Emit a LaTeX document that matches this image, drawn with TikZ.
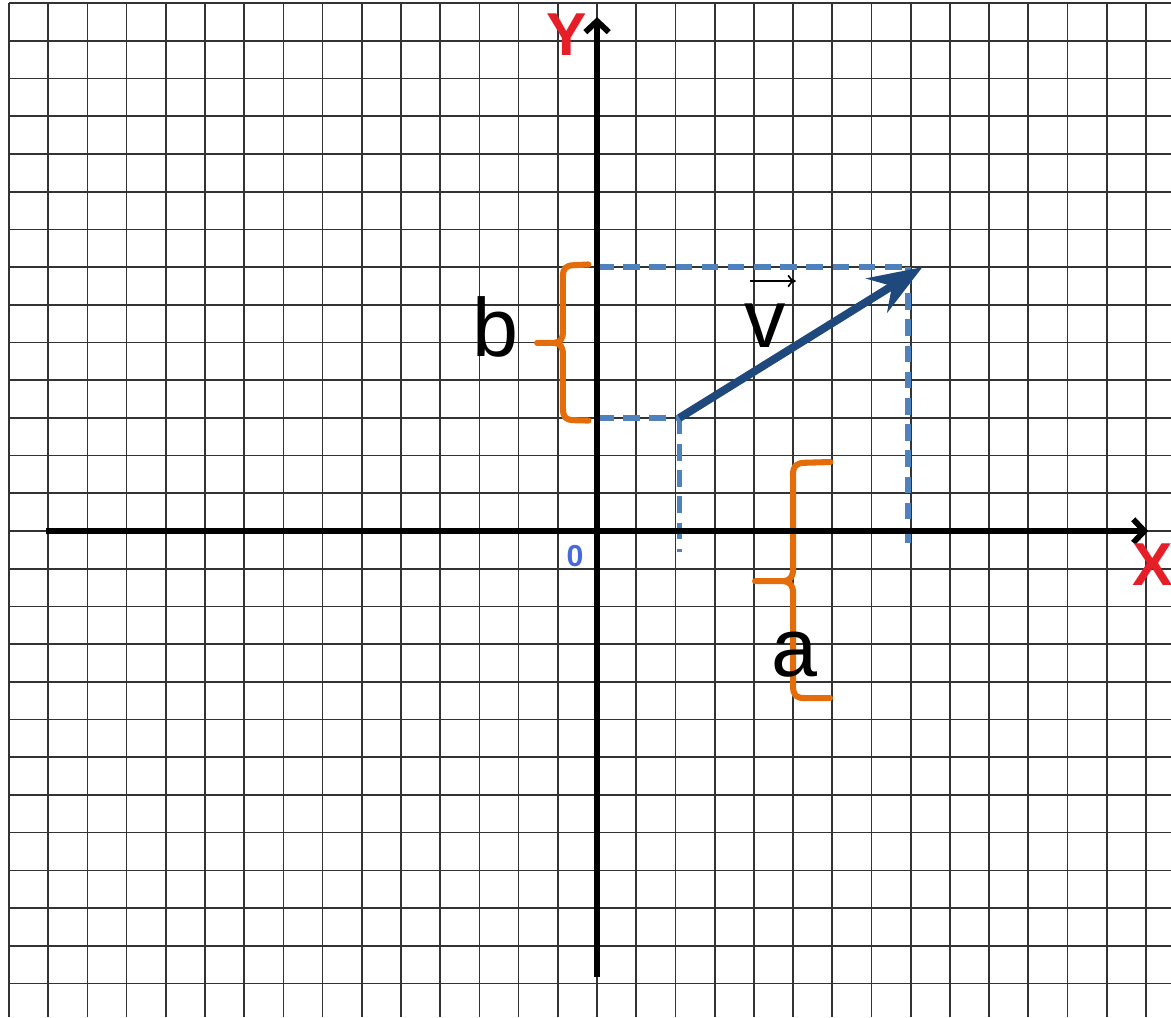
\documentclass[tikz,border=0pt]{standalone}
\usepackage{fontspec}
\setmainfont{Liberation Sans}
\usetikzlibrary{arrows.meta}
\definecolor{axred}{RGB}{230,30,40}
\definecolor{zeroblue}{RGB}{70,105,220}
\definecolor{dashblue}{RGB}{79,129,189}
\definecolor{vecblue}{RGB}{31,73,125}
\definecolor{braceorange}{RGB}{228,108,10}
\tikzset{
  gridline/.style={black!80,line width=1.2pt},
  axisline/.style={line width=4.2pt,-{Straight Barb[length=8pt,width=17pt]}},
  guide/.style={dashblue,line width=4pt,dash pattern=on 12pt off 7pt},
  vecline/.style={vecblue,line width=5.8pt,-{Stealth[length=39pt,width=29pt,inset=13pt]}},
  orbrace/.style={braceorange,line width=4.4pt,line cap=round,line join=round},
  letter/.style={font=\fontsize{60}{70}\selectfont},
  axlabel/.style={text=axred,font=\bfseries\fontsize{44}{50}\selectfont},
}
\begin{document}
\begin{tikzpicture}[x=10mm,y=9.617mm]
\useasboundingbox (-15.23,-12.89) rectangle (14.64,14.085);
% grid paper
\foreach \c in {-15,...,14}{\draw[gridline] (\c,-12.89) -- (\c,14);}
\foreach \r in {-12,...,14}{\draw[gridline] (-15,\r) -- (14.64,\r);}
% points
\coordinate (O) at (0,0);
\coordinate (xL) at (-14.05,0);
\coordinate (xR) at (14.06,0);
\coordinate (yB) at (0,-11.82);
\coordinate (yT) at (0,13.63);
\coordinate (P) at (2.1,3);
\coordinate (Q) at (8.3,7);
\coordinate (Py) at (0,3);
\coordinate (Px) at (2.1,-0.55);
\coordinate (Qy) at (0,7);
\coordinate (Qc) at (7.93,7);
\coordinate (Qx) at (7.93,-0.32);
% projections
\draw[guide] (Qy) -- (Qc);
\draw[guide] (Qc) -- (Qx);
\draw[guide] (Py) -- (P);
\draw[guide] (P) -- (Px);
% braces
\draw[orbrace] (-0.22,7.07) -- (-0.6,7.05) .. controls (-0.8,7.04) and (-0.87,6.97) .. (-0.87,6.75)
  -- (-0.87,5.3) .. controls (-0.87,5.1) and (-0.93,5.0) .. (-1.1,4.99) -- (-1.53,4.99)
  -- (-1.1,4.99) .. controls (-0.93,4.98) and (-0.87,4.88) .. (-0.87,4.68)
  -- (-0.87,3.25) .. controls (-0.87,3.02) and (-0.8,2.95) .. (-0.6,2.94) -- (-0.22,2.93);
\draw[orbrace] (5.95,1.83) -- (5.3,1.81) .. controls (5.07,1.8) and (5.0,1.72) .. (5.0,1.5)
  -- (5.0,-1.0) .. controls (5.0,-1.22) and (4.93,-1.31) .. (4.75,-1.33) -- (4.03,-1.33)
  -- (4.75,-1.33) .. controls (4.93,-1.35) and (5.0,-1.44) .. (5.0,-1.66)
  -- (5.0,-4.1) .. controls (5.0,-4.36) and (5.07,-4.43) .. (5.3,-4.43) -- (5.94,-4.43);
% axes
\draw[axisline] (xL) -- (xR);
\draw[axisline] (yB) -- (yT);
% vector
\draw[vecline] (P) -- (Q);
% labels
\node[axlabel] (ylab) at (-0.77,13.16) {Y};
\node[axlabel] (xlab) at (14.18,-0.9) {X};
\node[text=zeroblue,font=\bfseries\fontsize{22}{26}\selectfont] (zero) at (-0.56,-0.66) {0};
\node[letter] (blab) at (-2.59,5.42) {b};
\node[letter] (alab) at (5.03,-3.28) {a};
\node[letter] (vlab) at (4.29,5.45) {v};
\coordinate (barL) at (3.9,6.63);
\coordinate (barR) at (5.07,6.63);
\draw[line width=1.2pt,-{To[length=6pt,width=9pt]}] (barL) -- (barR);
\end{tikzpicture}
\end{document}
